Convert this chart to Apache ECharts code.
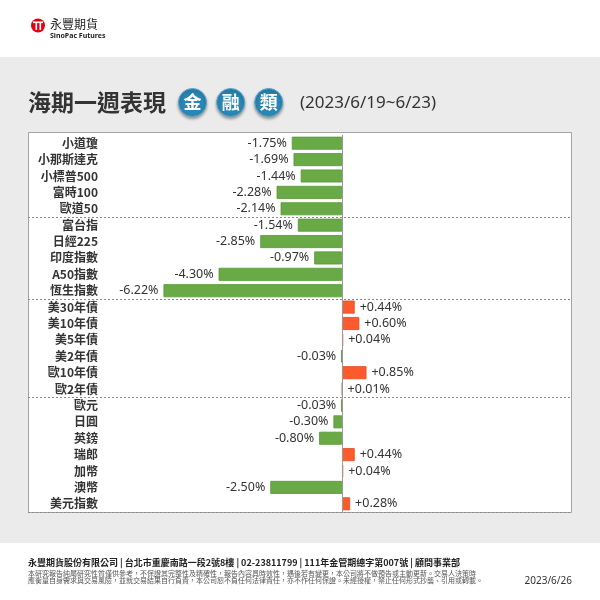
<!DOCTYPE html>
<html><head><meta charset="utf-8">
<script src="https://cdn.jsdelivr.net/npm/echarts@6/dist/echarts.min.js"></script>
<style>html,body{margin:0;padding:0;background:#fff}#c{width:600px;height:600px}</style>
</head><body><div id="c"></div>
<script>
var categories = ['小道瓊','小那斯達克','小標普500','富時100','歐道50','富台指','日經225','印度指數','A50指數','恆生指數','美30年債','美10年債','美5年債','美2年債','歐10年債','歐2年債','歐元','日圓','英鎊','瑞郎','加幣','澳幣','美元指數'];
var values = [-1.75,-1.69,-1.44,-2.28,-2.14,-1.54,-2.85,-0.97,-4.30,-6.22,0.44,0.60,0.04,-0.03,0.85,0.01,-0.03,-0.30,-0.80,0.44,0.04,-2.50,0.28];
var groupBreaks = [5,10,16];
var titleText = '海期一週表現';
var badgeChars = ['金','融','類'];
var periodText = '(2023/6/19~6/23)';
var footerMain = '永豐期貨股份有限公司 | 台北市重慶南路一段2號8樓 | 02-23811799 | 111年金管期總字第007號 | 顧問事業部';
var footerLine1 = '本研究報告純屬研究性質僅供參考，不保證其完整性及精確性，報告內容具時效性，遇後若有變更，本公司將不做預告或主動更新。交易人決策時';
var footerLine2 = '應衡量自身需求與交易風險，並就交易結果自行負責，本公司恕不負任何法律責任，亦不作任何保證。未經授權，禁止任何形式抄襲、引用或轉載。';
var reportDate = '2023/6/26';

var CJK = '"Noto Sans CJK TC","Noto Sans",sans-serif';
var LAT = '"Noto Sans","Noto Sans CJK TC",sans-serif';

var barData = values.map(function(v){
  var pos = v >= 0;
  return {
    value: v,
    itemStyle: {color: pos ? '#fd5a2e' : '#6aaa46', borderColor: pos ? '#e24a22' : '#559a35', borderWidth: 0.8},
    label: {show: true, position: pos ? 'right' : 'left', distance: 5,
      formatter: (pos ? '+' : '') + v.toFixed(2) + '%',
      fontFamily: LAT, fontSize: 12.5, color: '#333'}
  };
});

var badgeX = [192.5, 230.7, 268.7];
var graphics = [
  {type:'rect', z:-10, shape:{x:0,y:57,width:600,height:486}, style:{fill:'#ebebeb'}},
  {type:'rect', z:-5, shape:{x:28.5,y:132.5,width:543,height:380}, style:{fill:'#fff', stroke:'#a3a3a3', lineWidth:1}},
  {type:'circle', shape:{cx:38,cy:25.5,r:7}, style:{fill:'#e50012'}},
  {type:'rect', shape:{x:33,y:21.5,width:10,height:1.6}, style:{fill:'#fff'}},
  {type:'rect', shape:{x:35.5,y:23,width:1.6,height:7}, style:{fill:'#fff'}},
  {type:'rect', shape:{x:39.5,y:23,width:1.6,height:7}, style:{fill:'#fff'}},
  {type:'text', x:50, y:24, style:{text:'永豐期貨', font:'12px '+CJK, fill:'#222', textVerticalAlign:'middle'}},
  {type:'text', x:50, y:36, style:{text:'SinoPac Futures', font:'bold 7px '+LAT, fill:'#222', textVerticalAlign:'middle'}},
  {type:'text', x:28, y:102, style:{text:titleText, font:'bold 23px '+CJK, fill:'#333', textVerticalAlign:'middle'}},
  {type:'text', x:300, y:103, style:{text:periodText, font:'17px '+LAT, fill:'#333', textVerticalAlign:'middle'}},
  {type:'text', x:28, y:563, style:{text:footerMain, font:'bold 9px '+CJK, fill:'#222', textVerticalAlign:'middle'}},
  {type:'text', x:28, y:573, style:{text:footerLine1, font:'7px '+CJK, fill:'#555', textVerticalAlign:'middle'}},
  {type:'text', x:28, y:580.5, style:{text:footerLine2, font:'7px '+CJK, fill:'#555', textVerticalAlign:'middle'}},
  {type:'text', x:572, y:581, style:{text:reportDate, font:'10px '+LAT, fill:'#333', textAlign:'right', textVerticalAlign:'middle'}}
];
badgeChars.forEach(function(ch, i){
  graphics.push({type:'circle', shape:{cx:badgeX[i], cy:102.5, r:14},
    style:{fill:'#2a86b4', stroke:'#5aa6cc', lineWidth:1, shadowBlur:3, shadowOffsetY:2, shadowColor:'rgba(0,0,0,0.35)'}});
  graphics.push({type:'text', x:badgeX[i], y:102.5, style:{text:ch, font:'bold 18px '+CJK, fill:'#fff', textAlign:'center', textVerticalAlign:'middle'}});
});

var chart = echarts.init(document.getElementById('c'), null, {renderer:'canvas'});
chart.setOption({
  animation: false,
  backgroundColor: '#fff',
  graphic: graphics,
  grid: {left: 28, right: 28, top: 135, height: 377},
  xAxis: {type: 'value', min: -10.94, max: 8.01,
    axisLine: {show: false}, axisTick: {show: false}, axisLabel: {show: false}, splitLine: {show: false}},
  yAxis: {type: 'category', inverse: true, data: categories,
    axisLine: {show: false}, axisTick: {show: false},
    axisLabel: {inside: true, align: 'right', margin: 70, fontFamily: CJK, fontWeight: 'bold', fontSize: 12, color: '#333'},
    splitLine: {show: true, interval: function(i){ return groupBreaks.indexOf(i) >= 0; },
      lineStyle: {type: [2, 2], color: '#8a8a8a', width: 1}}},
  series: [{
    type: 'bar', data: barData, barWidth: 13,
    markLine: {silent: true, symbol: 'none', label: {show: false},
      lineStyle: {color: '#9a9a9a', type: 'solid', width: 1},
      data: [{xAxis: 0}]}
  }]
});
</script></body></html>
